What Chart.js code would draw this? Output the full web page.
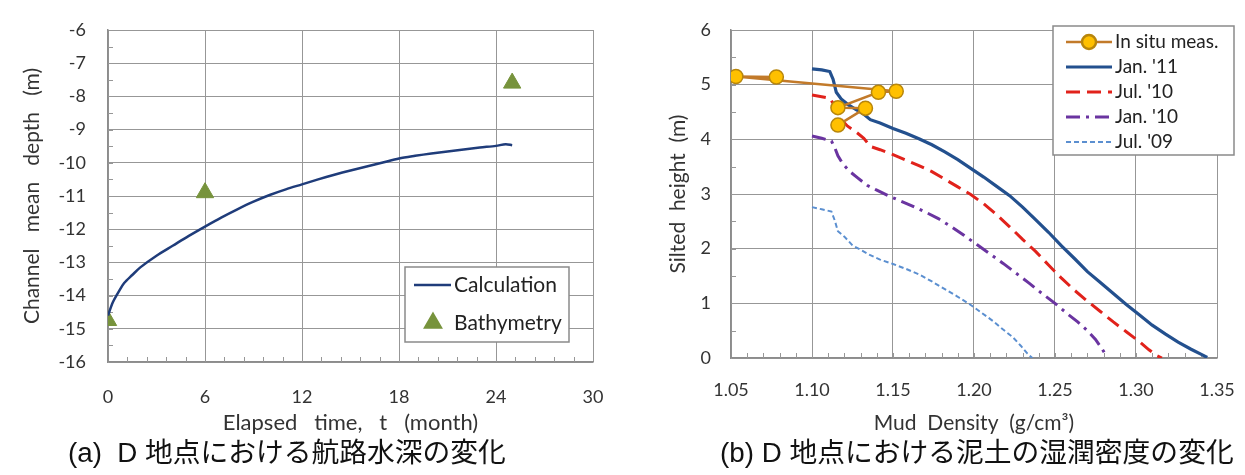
<!DOCTYPE html>
<html>
<head>
<meta charset="utf-8">
<script src="https://cdn.jsdelivr.net/npm/chart.js@4.4.1/dist/chart.umd.min.js"></script>
<style>
  html, body { margin: 0; padding: 0; background: #fff; }
  body { width: 1245px; height: 475px; position: relative; overflow: hidden; }
  .panel { position: absolute; top: 0; width: 620px; height: 440px; }
  .caption {
    position: absolute; top: 452px; transform: translateY(-50%); white-space: nowrap; color: #111;
    font-family: "Liberation Sans", "Noto Sans CJK JP", sans-serif;
    font-size: 28px; line-height: 1.15;
  }
  .caption .jp { font-family: "Noto Sans CJK JP", sans-serif; }
</style>
</head>
<body>
<div class="panel" style="left:0"><canvas id="depth-chart" width="620" height="440"></canvas></div>
<div class="panel" style="left:625px"><canvas id="density-chart" width="620" height="440"></canvas></div>
<div class="caption" data-w="438" style="left:68px">(a)&nbsp; D <span class="jp">地点における航路水深の変化</span></div>
<div class="caption" data-w="514" style="left:720px">(b) D <span class="jp">地点における泥土の湿潤密度の変化</span></div>

<script>
// (a) channel mean depth over elapsed time
const calcMonths = [0, 0.3, 0.7, 1, 1.5, 2, 3, 4, 5, 6, 7, 8, 9, 10, 11, 12, 13, 14, 15, 16, 17, 18, 19, 20, 21, 22, 23, 24, 24.6, 25];
const calcDepth  = [-14.6, -14.2, -13.85, -13.62, -13.38, -13.15, -12.8, -12.5, -12.2, -11.92, -11.65, -11.4, -11.17, -10.97, -10.8, -10.65,
                    -10.5, -10.36, -10.23, -10.11, -9.99, -9.87, -9.79, -9.72, -9.66, -9.6, -9.54, -9.49, -9.44, -9.47];
const bathyMonths = [0, 6, 25];
const bathyDepth  = [-14.75, -10.9, -7.6];
const monthTicks = [0, 6, 12, 18, 24, 30];
const depthTicks = [-16, -15, -14, -13, -12, -11, -10, -9, -8, -7, -6];

// (b) silted height vs mud density
const situDensity = [1.078, 1.053, 1.152, 1.141, 1.116, 1.133, 1.116];
const situHeight  = [5.14, 5.15, 4.88, 4.86, 4.58, 4.57, 4.26];

const jan11Density = [1.100, 1.106, 1.111, 1.113, 1.115, 1.118, 1.122, 1.127, 1.132, 1.136, 1.142, 1.150, 1.158, 1.166, 1.174, 1.182, 1.190,
                      1.198, 1.206, 1.214, 1.222, 1.230, 1.238, 1.246, 1.254, 1.262, 1.270, 1.278, 1.286, 1.294, 1.302, 1.310, 1.318, 1.326, 1.334, 1.340, 1.344];
const jan11Height  = [5.29, 5.27, 5.24, 5.10, 4.86, 4.74, 4.64, 4.55, 4.46, 4.36, 4.30, 4.20, 4.11, 4.01, 3.90, 3.77, 3.63,
                      3.47, 3.31, 3.14, 2.97, 2.76, 2.53, 2.30, 2.05, 1.82, 1.58, 1.38, 1.18, 0.98, 0.79, 0.60, 0.44, 0.29, 0.16, 0.07, 0.01];

const jul10Density = [1.100, 1.106, 1.111, 1.113, 1.115, 1.118, 1.122, 1.127, 1.132, 1.136, 1.142, 1.150, 1.158, 1.166, 1.174, 1.182, 1.190,
                      1.198, 1.206, 1.214, 1.222, 1.230, 1.238, 1.246, 1.254, 1.262, 1.270, 1.278, 1.286, 1.294, 1.302, 1.308, 1.313, 1.316];
const jul10Height  = [4.81, 4.78, 4.75, 4.66, 4.52, 4.36, 4.24, 4.14, 4.02, 3.87, 3.81, 3.72, 3.62, 3.52, 3.41, 3.27, 3.13,
                      2.99, 2.82, 2.62, 2.40, 2.17, 1.95, 1.70, 1.46, 1.24, 1.04, 0.85, 0.66, 0.48, 0.30, 0.15, 0.04, 0.00];

const jan10Density = [1.100, 1.106, 1.112, 1.114, 1.116, 1.119, 1.123, 1.128, 1.134, 1.140, 1.147, 1.154, 1.162, 1.170, 1.178, 1.186, 1.194,
                      1.202, 1.210, 1.218, 1.226, 1.234, 1.242, 1.250, 1.258, 1.264, 1.270, 1.275, 1.279, 1.282];
const jan10Height  = [4.06, 4.02, 3.97, 3.85, 3.70, 3.55, 3.42, 3.30, 3.16, 3.07, 2.97, 2.88, 2.78, 2.67, 2.55, 2.40, 2.24,
                      2.07, 1.90, 1.73, 1.55, 1.37, 1.18, 1.00, 0.80, 0.66, 0.50, 0.34, 0.17, 0.02];

const jul09Density = [1.100, 1.106, 1.112, 1.114, 1.116, 1.120, 1.125, 1.130, 1.136, 1.142, 1.150, 1.158, 1.166, 1.174, 1.182, 1.190,
                      1.198, 1.205, 1.212, 1.218, 1.224, 1.229, 1.233, 1.236];
const jul09Height  = [2.76, 2.72, 2.68, 2.52, 2.32, 2.22, 2.06, 1.98, 1.88, 1.80, 1.72, 1.63, 1.53, 1.40, 1.26, 1.12,
                      0.97, 0.82, 0.67, 0.52, 0.38, 0.22, 0.08, 0.00];
const densityTicks = [1.05, 1.10, 1.15, 1.20, 1.25, 1.30, 1.35];
const heightTicks  = [0, 1, 2, 3, 4, 5, 6];

const pts = (xs, ys) => xs.map((x, i) => ({ x, y: ys[i] }));

const GRID = '#979797';
const TEXT = '#333';
const FONT = 'Lato, "Open Sans", sans-serif';

// small inward tick marks between the gridlines
const minorTicks = {
  id: 'minorTicks',
  beforeDatasetsDraw(chart, args, o) {
    const { ctx, chartArea: a, scales: { x, y } } = chart;
    ctx.save();
    ctx.strokeStyle = GRID;
    ctx.lineWidth = 1;
    ctx.beginPath();
    const nx = Math.round((x.max - x.min) / o.xStep);
    for (let i = 1; i < nx; i++) {
      const px = Math.round(x.getPixelForValue(x.min + i * o.xStep)) + 0.5;
      ctx.moveTo(px, a.bottom);
      ctx.lineTo(px, a.bottom - o.len);
    }
    const ny = Math.round((y.max - y.min) / o.yStep);
    for (let i = 1; i < ny; i++) {
      const py = Math.round(y.getPixelForValue(y.min + i * o.yStep)) + 0.5;
      ctx.moveTo(a.left, py);
      ctx.lineTo(a.left + o.len, py);
    }
    ctx.stroke();
    ctx.restore();
  }
};

// boxed legend drawn inside the plot
const boxLegend = {
  id: 'boxLegend',
  afterDraw(chart, args, o) {
    const { ctx } = chart;
    ctx.save();
    ctx.fillStyle = '#fff';
    ctx.fillRect(o.x, o.y, o.w, o.h);
    ctx.strokeStyle = '#8a8a8a';
    ctx.lineWidth = 1.5;
    ctx.strokeRect(o.x, o.y, o.w, o.h);
    chart.data.datasets.forEach((ds, i) => {
      const cy = o.y + o.rowTop + i * o.rowGap;
      if (ds.showLine) {
        ctx.strokeStyle = ds.borderColor;
        ctx.lineWidth = ds.borderWidth;
        ctx.setLineDash(ds.borderDash || []);
        ctx.beginPath();
        ctx.moveTo(o.x + o.lineFrom, cy);
        ctx.lineTo(o.x + o.lineTo, cy);
        ctx.stroke();
        ctx.setLineDash([]);
      }
      if (ds.pointRadius > 0) {
        ctx.fillStyle = ds.pointBackgroundColor;
        ctx.strokeStyle = ds.pointBorderColor;
        Chart.helpers.drawPoint(ctx, {
          pointStyle: ds.pointStyle, radius: o.markerRadius || ds.pointRadius,
          borderWidth: ds.pointBorderWidth, rotation: 0
        }, o.x + o.markerX, cy);
      }
      ctx.fillStyle = '#222';
      ctx.font = o.font;
      ctx.textBaseline = 'middle';
      ctx.textAlign = 'left';
      ctx.fillText(ds.label, o.x + o.textX, cy);
    });
    ctx.restore();
  }
};

function axis(opts) {
  return {
    type: 'linear',
    min: opts.min, max: opts.max,
    afterBuildTicks: s => { s.ticks = opts.ticks.map(v => ({ value: v })); },
    afterFit: s => {
      if (opts.width) s.width = opts.width;
      if (opts.height) s.height = opts.height;
      // keep the plot box where the layout padding puts it
      s.paddingLeft = s.paddingRight = s.paddingTop = s.paddingBottom = 0;
    },
    grid: { color: GRID, lineWidth: 1, drawTicks: false },
    border: { color: '#8c8c8c', width: 1.5 },
    ticks: {
      color: TEXT, font: { family: FONT, size: 18 }, padding: opts.pad,
      callback: opts.fmt || (v => String(v))
    },
    title: {
      display: true, text: opts.title, color: TEXT,
      font: { family: FONT, size: opts.titleSize }, padding: opts.titlePad
    }
  };
}

new Chart(document.getElementById('depth-chart'), {
  type: 'scatter',
  data: {
    datasets: [
      {
        label: 'Calculation',
        data: pts(calcMonths, calcDepth),
        showLine: true, borderColor: '#1f3c7a', borderWidth: 2.5,
        pointRadius: 0, tension: 0.3
      },
      {
        label: 'Bathymetry',
        data: pts(bathyMonths, bathyDepth),
        showLine: false, pointStyle: 'triangle', pointRadius: 10,
        pointBackgroundColor: '#77933c', pointBorderColor: '#77933c', pointBorderWidth: 1
      }
    ]
  },
  options: {
    responsive: false, animation: false,
    layout: { padding: { left: 0, right: 27, top: 30, bottom: 0 } },
    scales: {
      x: axis({ min: 0, max: 30, ticks: monthTicks, height: 78, pad: 24,
                title: 'Elapsed   time,   t   (month)', titleSize: 22, titlePad: { top: 0, bottom: 4 } }),
      y: axis({ min: -16, max: -6, ticks: depthTicks, width: 108, pad: 22,
                title: 'Channel   mean   depth   (m)', titleSize: 21, titlePad: { top: 19.5, bottom: 0 } })
    },
    plugins: {
      legend: { display: false },
      tooltip: { enabled: false },
      minorTicks: { xStep: 1.2, yStep: 0.5, len: 5 },
      boxLegend: { x: 405, y: 267, w: 164, h: 75, rowTop: 18, rowGap: 38,
                   lineFrom: 9, lineTo: 46, markerX: 28, markerRadius: 9, textX: 49, font: '21px ' + FONT }
    }
  },
  plugins: [minorTicks, boxLegend]
});

new Chart(document.getElementById('density-chart'), {
  type: 'scatter',
  data: {
    datasets: [
      {
        label: 'In situ meas.',
        data: pts(situDensity, situHeight),
        showLine: true, borderColor: '#c27a2a', borderWidth: 2.5,
        pointStyle: 'circle', pointRadius: 7,
        pointBackgroundColor: '#ffc000', pointBorderColor: '#b8860b', pointBorderWidth: 1.5
      },
      {
        label: "Jan. '11",
        data: pts(jan11Density, jan11Height),
        showLine: true, borderColor: '#23508e', borderWidth: 3.2, pointRadius: 0
      },
      {
        label: "Jul. '10",
        data: pts(jul10Density, jul10Height),
        showLine: true, borderColor: '#e1221b', borderWidth: 3, borderDash: [14, 7], pointRadius: 0
      },
      {
        label: "Jan. '10",
        data: pts(jan10Density, jan10Height),
        showLine: true, borderColor: '#6a34a0', borderWidth: 3, borderDash: [14, 6, 3, 6], pointRadius: 0
      },
      {
        label: "Jul. '09",
        data: pts(jul09Density, jul09Height),
        showLine: true, borderColor: '#5b8fd0', borderWidth: 2, borderDash: [5, 3], pointRadius: 0
      }
    ]
  },
  options: {
    responsive: false, animation: false,
    layout: { padding: { left: 0, right: 28, top: 30, bottom: 0 } },
    scales: {
      x: axis({ min: 1.05, max: 1.35, ticks: densityTicks, height: 82, pad: 21, fmt: v => v.toFixed(2),
                title: 'Mud  Density  (g/cm³)', titleSize: 21, titlePad: { top: 0, bottom: 4 } }),
      y: axis({ min: 0, max: 6, ticks: heightTicks, width: 106, pad: 20,
                title: 'Silted  height  (m)', titleSize: 21, titlePad: { top: 41, bottom: 0 } })
    },
    plugins: {
      legend: { display: false },
      tooltip: { enabled: false },
      minorTicks: { xStep: 0.01, yStep: 0.5, len: 5 },
      boxLegend: { x: 428, y: 26, w: 181, h: 129, rowTop: 16, rowGap: 25,
                   lineFrom: 13, lineTo: 59, markerX: 36, textX: 62, font: '19px ' + FONT }
    }
  },
  plugins: [minorTicks, boxLegend]
});

// size each caption so it spans its panel's caption width
function fitCaptions() {
  document.querySelectorAll('.caption').forEach(el => {
    el.style.fontSize = '28px';
    const w = el.getBoundingClientRect().width;
    el.style.fontSize = (28 * Number(el.dataset.w) / w).toFixed(2) + 'px';
  });
}
fitCaptions();
if (document.fonts) document.fonts.ready.then(fitCaptions);
</script>
</body>
</html>
